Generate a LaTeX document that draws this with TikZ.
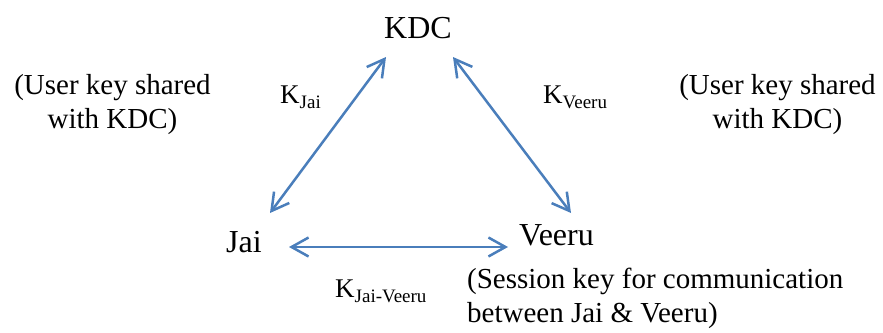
\documentclass[tikz,border=0pt]{standalone}
\usepackage{fontspec}
\setmainfont{Liberation Serif}
\usetikzlibrary{arrows.meta}
\definecolor{linkblue}{RGB}{74,126,187}
% lowered, smaller subscript for key names
\newcommand{\keysub}[1]{\raisebox{-5pt}{\fontsize{19}{19}\selectfont #1}}
\begin{document}
\begin{tikzpicture}[x=1pt,y=-1pt,
  party/.style={font=\fontsize{32}{36}\selectfont, inner sep=0pt, anchor=base west},
  keylbl/.style={font=\fontsize{27}{30}\selectfont, inner sep=0pt, anchor=base west},
  note/.style={font=\fontsize{29}{34}\selectfont, inner sep=0pt, align=center, anchor=base},
  keylink/.style={draw=linkblue, line width=2.5pt,
    {Straight Barb[length=17pt,width=19pt]}-{Straight Barb[length=17pt,width=19pt]}}]
\useasboundingbox (0,0) rectangle (883,332);

% parties
\node[party, anchor=base] (kdc) at (418,38) {KDC};
\node[party] (jai) at (226,252) {Jai};
\node[party] (veeru) at (519,245) {Veeru};

% key labels
\node[keylbl] (kjai) at (280,103) {K\keysub{Jai}};
\node[keylbl] (kveeru) at (543,103) {K\keysub{Veeru}};
\node[keylbl] (kjv) at (335,297) {K\keysub{Jai-Veeru}};

% notes (anchored at the baseline of their last line)
\node[note] (noteL) at (112.5,128) {(User key shared\\with KDC)};
\node[note] (noteR) at (777.5,128) {(User key shared\\with KDC)};
\node[note, align=left, anchor=base west] (noteS) at (467,322) {(Session key for communication\\between Jai \& Veeru)};

% arrow end points beside the parties
\coordinate (jaiUp) at (270,213);
\coordinate (kdcL) at (386,57);
\coordinate (kdcR) at (453,57);
\coordinate (veeruUp) at (571,213);
\coordinate (jaiR) at (289,247);
\coordinate (veeruL) at (508,247);

\draw[keylink] (jaiUp) -- (kdcL);
\draw[keylink] (kdcR) -- (veeruUp);
\draw[keylink] (jaiR) -- (veeruL);
\end{tikzpicture}
\end{document}
